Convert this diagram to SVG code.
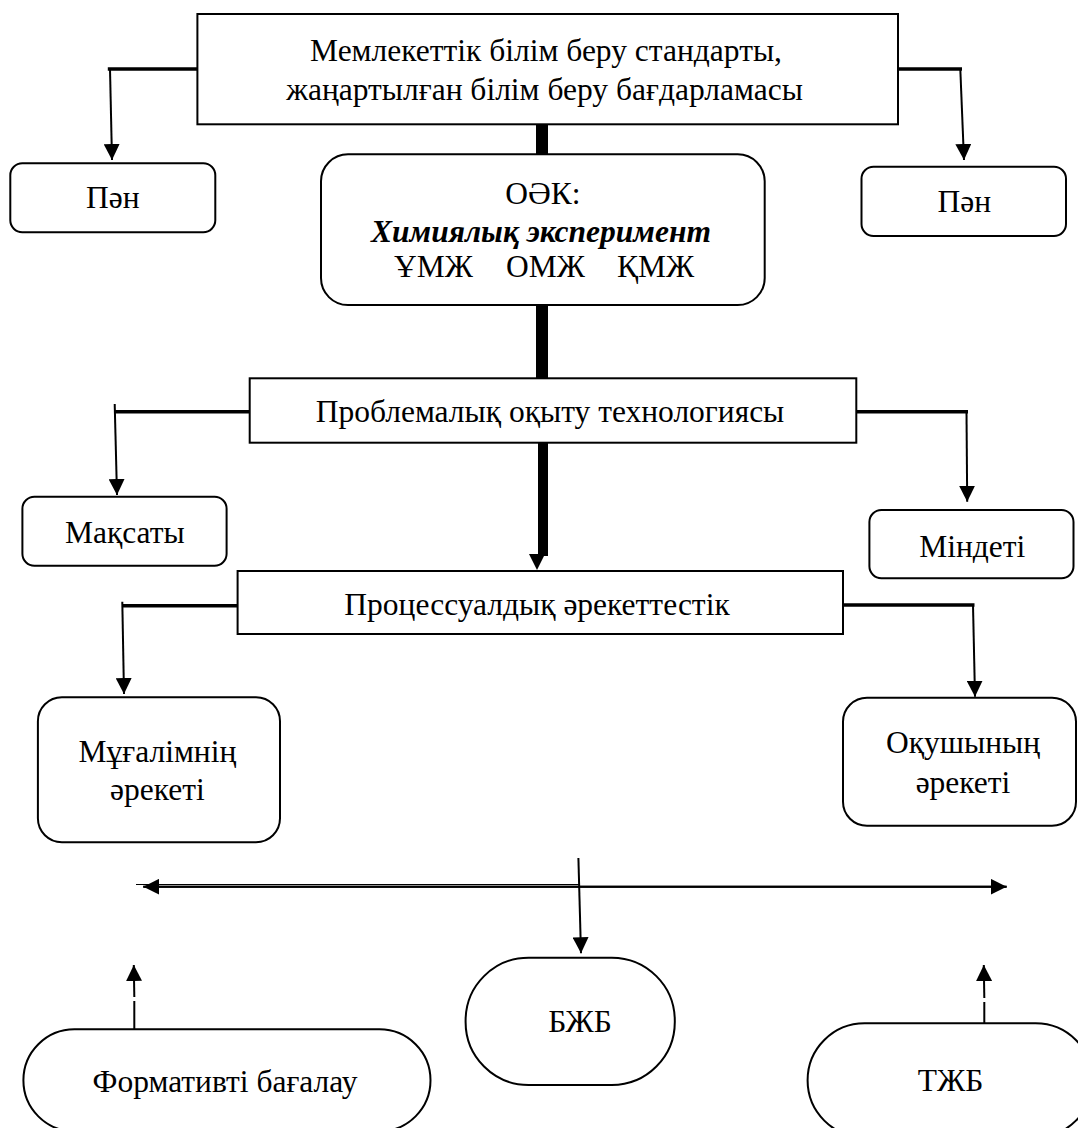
<svg xmlns="http://www.w3.org/2000/svg" width="1078" height="1128" viewBox="0 0 1078 1128">
  <style>
    .box { fill: #fff; stroke: #000; stroke-width: 2; }
    .t { font-family: "Liberation Serif", "DejaVu Serif", "Times New Roman", serif; font-size: 31.5px; fill: #000; text-anchor: middle; }
    .bi { font-weight: bold; font-style: italic; }
    .ln { fill: none; stroke: #000; stroke-width: 2; }
    .hz { fill: none; stroke: #000; stroke-width: 3.5; }
    .bar { fill: #000; }
  </style>
  <defs>
    <marker id="arr" markerUnits="userSpaceOnUse" markerWidth="16" markerHeight="16" refX="16" refY="8" orient="auto">
      <path d="M0,0 L16,8 L0,16 z" fill="#000"/>
    </marker>
  </defs>
  <rect width="1078" height="1128" fill="#fff"/>

  <!-- connectors -->
  <g id="connectors">
    <!-- standard to subjects -->
    <line class="hz" x1="107.8" y1="69" x2="197.4" y2="69"/>
    <line class="ln" x1="110" y1="69" x2="112" y2="160" marker-end="url(#arr)"/>
    <line class="hz" x1="898" y1="69" x2="962" y2="69"/>
    <line class="ln" x1="960.3" y1="69" x2="964" y2="160" marker-end="url(#arr)"/>
    <!-- main trunk -->
    <rect class="bar" x="536" y="124" width="12" height="31"/>
    <rect class="bar" x="536" y="305" width="12" height="74"/>
    <rect class="bar" x="538" y="442" width="10" height="114"/>
    <path d="M529,554 L545,554 L537,570 z" fill="#000"/>
    <!-- technology to goal / task -->
    <line class="hz" x1="114.7" y1="411.7" x2="249.7" y2="411.7"/>
    <line class="ln" x1="114.7" y1="404" x2="117" y2="495" marker-end="url(#arr)"/>
    <line class="hz" x1="856.3" y1="411.7" x2="968" y2="411.7"/>
    <line class="ln" x1="966.5" y1="411.7" x2="967.2" y2="501.7" marker-end="url(#arr)"/>
    <!-- interaction to teacher / student -->
    <line class="hz" x1="122.3" y1="605.7" x2="237.6" y2="605.7"/>
    <line class="ln" x1="122.3" y1="601.7" x2="124" y2="694" marker-end="url(#arr)"/>
    <line class="hz" x1="843" y1="605" x2="974.5" y2="605"/>
    <line class="ln" x1="973" y1="605" x2="975" y2="696.7" marker-end="url(#arr)"/>
    <!-- assessment axis -->
    <line x1="136" y1="884.5" x2="580" y2="884.5" stroke="#000" stroke-width="1"/>
    <line class="ln" x1="1006.6" y1="886.7" x2="143.3" y2="886.7" marker-end="url(#arr)"/>
    <line class="ln" x1="143.3" y1="886.7" x2="1006.6" y2="886.7" marker-end="url(#arr)"/>
    <line class="ln" x1="578.4" y1="858" x2="581" y2="953.3" marker-end="url(#arr)"/>
    <line class="ln" x1="134.3" y1="1029.3" x2="134.3" y2="1001"/>
    <line class="ln" x1="134.3" y1="997" x2="133.8" y2="965" marker-end="url(#arr)"/>
    <line class="ln" x1="984.3" y1="1023.3" x2="984.3" y2="1002"/>
    <line class="ln" x1="984.3" y1="998" x2="983.8" y2="965" marker-end="url(#arr)"/>
  </g>

  <g id="standard">
    <rect class="box" x="197.4" y="14" width="700.6" height="110.3"/>
    <text class="t" x="546" y="61">Мемлекеттік білім беру стандарты,</text>
    <text class="t" x="544.5" y="100">жаңартылған білім беру бағдарламасы</text>
  </g>

  <g id="subject-left">
    <rect class="box" x="10.3" y="163.3" width="205" height="69" rx="12"/>
    <text class="t" x="112.8" y="208.3">Пән</text>
  </g>

  <g id="subject-right">
    <rect class="box" x="861.5" y="166.7" width="204.5" height="69.3" rx="12"/>
    <text class="t" x="964.4" y="211.7">Пән</text>
  </g>

  <g id="content">
    <rect class="box" x="321" y="154.3" width="443.7" height="150.7" rx="27"/>
    <text class="t" x="543" y="204">ОӘК:</text>
    <text class="t bi" x="541" y="241.7">Химиялық эксперимент</text>
    <text class="t" y="277.3" style="text-anchor:start"><tspan x="394">ҰМЖ</tspan><tspan x="506">ОМЖ</tspan><tspan x="617">ҚМЖ</tspan></text>
  </g>

  <g id="technology">
    <rect class="box" x="249.7" y="378.3" width="606.6" height="64.4"/>
    <text class="t" x="550" y="422">Проблемалық оқыту технологиясы</text>
  </g>

  <g id="goal">
    <rect class="box" x="22.4" y="496.7" width="204.2" height="69" rx="12"/>
    <text class="t" x="124.8" y="542.7">Мақсаты</text>
  </g>

  <g id="task">
    <rect class="box" x="869.4" y="510" width="204.1" height="68.3" rx="12"/>
    <text class="t" x="972.3" y="556.7">Міндеті</text>
  </g>

  <g id="interaction">
    <rect class="box" x="237.6" y="571" width="605.4" height="63"/>
    <text class="t" x="537" y="615">Процессуалдық әрекеттестік</text>
  </g>

  <g id="teacher">
    <rect class="box" x="37.9" y="697.3" width="242.1" height="145" rx="24"/>
    <text class="t" x="157.4" y="762.3">Мұғалімнің</text>
    <text class="t" x="157.4" y="800">әрекеті</text>
  </g>

  <g id="student">
    <rect class="box" x="843" y="697.7" width="233" height="128" rx="24"/>
    <text class="t" x="963" y="753.3">Оқушының</text>
    <text class="t" x="963" y="792.7">әрекеті</text>
  </g>

  <g id="bjb">
    <rect class="box" x="465.6" y="957.7" width="209.2" height="127.3" rx="63"/>
    <text class="t" x="580" y="1031.7">БЖБ</text>
  </g>

  <g id="formative">
    <rect class="box" x="23.4" y="1029.3" width="407.1" height="102" rx="51"/>
    <text class="t" x="225" y="1091.7">Формативті бағалау</text>
  </g>

  <g id="tjb">
    <rect class="box" x="807.6" y="1023.3" width="285" height="114" rx="57"/>
    <text class="t" x="950.5" y="1091">ТЖБ</text>
  </g>
</svg>
